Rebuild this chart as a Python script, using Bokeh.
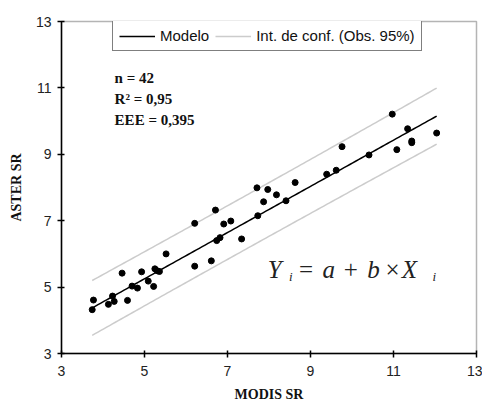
import numpy as np
from bokeh.plotting import figure
from bokeh.models import Label, Legend, LegendItem, FixedTicker, Range1d
from bokeh.embed import file_html
from bokeh.resources import INLINE

# Observations (MODIS SR vs ASTER SR)
modis_sr = [3.74, 3.77, 4.13, 4.23, 4.27, 4.46, 4.59, 4.70, 4.83, 4.93,
            5.09, 5.22, 5.25, 5.31, 5.36, 5.52, 6.21, 6.21, 6.61, 6.71,
            6.74, 6.82, 6.91, 7.08, 7.34, 7.71, 7.73, 7.87, 7.97, 8.18,
            8.41, 8.63, 9.39, 9.62, 9.76, 10.41, 10.97, 11.08, 11.34, 11.44,
            11.44, 12.04]
aster_sr = [4.32, 4.61, 4.48, 4.73, 4.57, 5.42, 4.60, 5.03, 4.97, 5.46,
            5.18, 5.02, 5.55, 5.49, 5.47, 6.00, 5.63, 6.92, 5.79, 7.32,
            6.40, 6.49, 6.90, 6.99, 6.45, 7.99, 7.15, 7.57, 7.94, 7.78,
            7.60, 8.15, 8.40, 8.52, 9.23, 8.98, 10.21, 9.14, 9.77, 9.40,
            9.35, 9.64]

# Model parameters
coef_a = 1.77
coef_b = 0.696
n_obs = 42
eee = 0.395
t_95 = 2.021

ticks = [3, 5, 7, 9, 11, 13]
stats_lines = ["n = 42", "R² = 0,95", "EEE = 0,395"]
legend_labels = ["Modelo", "Int. de conf. (Obs. 95%)"]

x_arr = np.array(modis_sr)
xm = x_arr.mean()
sxx = ((x_arr - xm) ** 2).sum()
xfit = np.linspace(x_arr.min(), x_arr.max(), 120)
yfit = coef_a + coef_b * xfit
half = t_95 * eee * np.sqrt(1 + 1 / n_obs + (xfit - xm) ** 2 / sxx)

p = figure(width=482, height=405, output_backend="svg", toolbar_location=None,
           x_range=Range1d(3, 13), y_range=Range1d(3, 13),
           min_border_left=61, min_border_right=6, min_border_top=21,
           min_border_bottom=52)
p.background_fill_color = "white"
p.border_fill_color = "white"
p.outline_line_color = "#b4b4b4"
p.outline_line_width = 1.5
p.grid.visible = False

for ax in (p.xaxis[0], p.yaxis[0]):
    ax.ticker = FixedTicker(ticks=ticks)
    ax.minor_tick_line_color = None
    ax.axis_line_color = "black"
    ax.axis_line_width = 1.5
    ax.major_tick_line_color = "black"
    ax.major_tick_line_width = 1.5
    ax.major_tick_in = 3
    ax.major_tick_out = 4
    ax.major_label_text_font = "Liberation Sans"
    ax.major_label_text_font_size = "14px"
    ax.major_label_text_color = "#222222"
    ax.axis_label_text_font = "Liberation Serif"
    ax.axis_label_text_font_style = "bold"
    ax.axis_label_text_font_size = "14px"
    ax.axis_label_text_color = "#111111"

p.xaxis.axis_label = "MODIS SR"
p.yaxis.axis_label = "ASTER SR"
p.xaxis.major_label_standoff = 8
p.xaxis.axis_label_standoff = 8
p.yaxis.major_label_standoff = 6
p.yaxis.axis_label_standoff = 9

r_up = p.line(xfit, yfit + half, line_color="#cccccc", line_width=1.5)
p.line(xfit, yfit - half, line_color="#cccccc", line_width=1.5)
r_mod = p.line(xfit, yfit, line_color="black", line_width=1.5)
p.scatter(modis_sr, aster_sr, size=6, color="black")

legend = Legend(items=[LegendItem(label=legend_labels[0], renderers=[r_mod]),
                       LegendItem(label=legend_labels[1], renderers=[r_up])],
                orientation="horizontal", location=(51, 302))
legend.border_line_color = "black"
legend.border_line_width = 1.2
legend.background_fill_alpha = 1
legend.label_text_font = "Liberation Sans"
legend.label_text_font_size = "15px"
legend.label_text_color = "#111111"
legend.glyph_width = 36
legend.glyph_height = 16
legend.label_height = 16
legend.label_standoff = 5
legend.spacing = 6
legend.padding = 6
legend.margin = 0
p.add_layout(legend, "center")

stat_y = [11.30, 10.66, 10.02]
for txt, yy in zip(stats_lines, stat_y):
    p.add_layout(Label(x=4.28, y=yy, text=txt, text_font="Liberation Serif",
                       text_font_style="bold", text_font_size="15px",
                       text_color="#111111", text_baseline="alphabetic"))

eq_tokens = [("Y", 7.97, 5.54, "italic", "25px"),
             ("i", 8.48, 5.31, "italic", "13px"),
             ("=", 8.72, 5.54, "normal", "25px"),
             ("a", 9.29, 5.54, "italic", "25px"),
             ("+", 9.80, 5.54, "normal", "25px"),
             ("b", 10.37, 5.54, "italic", "25px"),
             ("×", 10.81, 5.54, "normal", "25px"),
             ("X", 11.20, 5.54, "italic", "25px"),
             ("i", 11.94, 5.31, "italic", "13px")]
for txt, xx, yy, style, size in eq_tokens:
    p.add_layout(Label(x=xx, y=yy, text=txt, text_font="Liberation Serif",
                       text_font_style=style, text_font_size=size,
                       text_color="#222222", text_baseline="alphabetic"))

open("out.html", "w").write(file_html(p, INLINE))
